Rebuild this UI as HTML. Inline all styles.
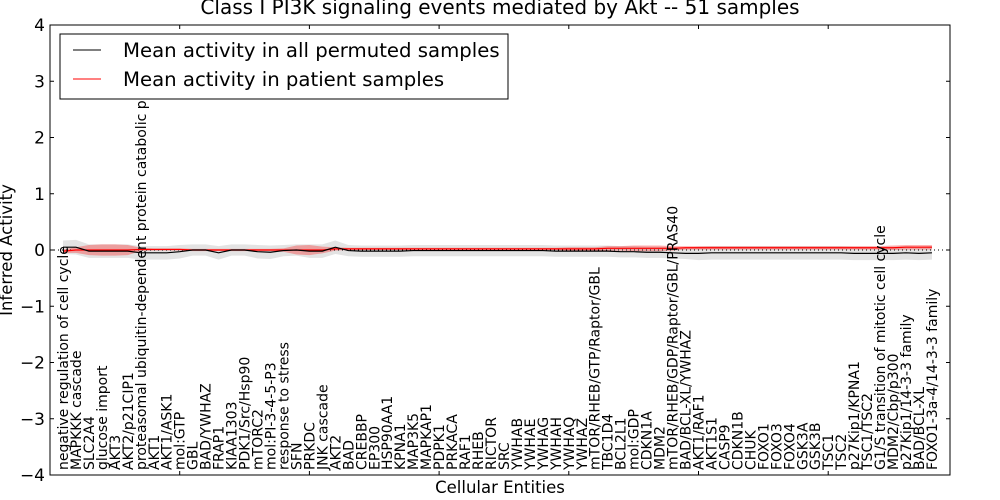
<!DOCTYPE html>
<html><head><meta charset="utf-8"><style>
body{margin:0;background:#fff;}
svg{display:block;font-family:"DejaVu Sans","Liberation Sans",sans-serif;}
</style></head><body>
<svg id="chart" width="1000" height="500" viewBox="0 0 1000 500" xmlns="http://www.w3.org/2000/svg">
<text x="500" y="14" text-anchor="middle" font-size="20">Class I PI3K signaling events mediated by Akt -- 51 samples</text>
<g id="plot"></g>
<g id="xlabels"></g>
<rect x="50" y="25" width="900" height="450" fill="none" stroke="#000" stroke-width="1"/>
<g id="ticks"></g>
<text transform="translate(12,250) rotate(-90)" text-anchor="middle" font-size="16.5">Inferred Activity</text>
<text x="500" y="493" text-anchor="middle" font-size="16.5">Cellular Entities</text>
<g>
<rect x="60" y="34" width="448" height="65" fill="#fff" stroke="#000" stroke-width="1"/>
<line x1="73" y1="50" x2="101" y2="50" stroke="#000" stroke-width="1"/>
<text x="123" y="57" font-size="19.7">Mean activity in all permuted samples</text>
<line x1="73" y1="79" x2="101" y2="79" stroke="#f00" stroke-width="1"/>
<text x="123" y="86" font-size="19.7">Mean activity in patient samples</text>
</g>
</svg>
<script>
const categories=["negative regulation of cell cycle","MAPKKK cascade","SLC2A4","glucose import","AKT3","AKT2/p21CIP1","proteasomal ubiquitin-dependent protein catabolic process","AKT1","AKT1/ASK1","mol:GTP","GBL","BAD/YWHAZ","FRAP1","KIAA1303","PDK1/Src/Hsp90","mTORC2","mol:PI-3-4-5-P3","response to stress","SFN","PRKDC","JNK cascade","AKT2","BAD","CREBBP","EP300","HSP90AA1","KPNA1","MAP3K5","MAPKAP1","PDPK1","PRKACA","RAF1","RHEB","RICTOR","SRC","YWHAB","YWHAE","YWHAG","YWHAH","YWHAQ","YWHAZ","mTOR/RHEB/GTP/Raptor/GBL","TBC1D4","BCL2L1","mol:GDP","CDKN1A","MDM2","mTOR/RHEB/GDP/Raptor/GBL/PRAS40","BAD/BCL-XL/YWHAZ","AKT1/RAF1","AKT1S1","CASP9","CDKN1B","CHUK","FOXO1","FOXO3","FOXO4","GSK3A","GSK3B","TSC1","TSC2","p27Kip1/KPNA1","TSC1/TSC2","G1/S transition of mitotic cell cycle","MDM2/Cbp/p300","p27Kip1/14-3-3 family","BAD/BCL-XL","FOXO1-3a-4/14-3-3 family"];
const permMean=[0.05,0.05,-0.02,-0.02,-0.02,-0.02,-0.05,-0.05,-0.05,-0.03,0,0,-0.05,0,0,-0.03,-0.04,-0.01,0,-0.02,-0.02,0.05,-0.01,-0.02,-0.02,-0.02,-0.02,-0.01,-0.01,-0.01,-0.01,-0.01,-0.01,-0.01,-0.01,-0.01,-0.01,-0.01,-0.02,-0.02,-0.02,-0.02,-0.02,-0.03,-0.03,-0.04,-0.04,-0.05,-0.06,-0.06,-0.05,-0.05,-0.05,-0.05,-0.05,-0.05,-0.05,-0.05,-0.05,-0.05,-0.05,-0.06,-0.06,-0.06,-0.06,-0.05,-0.06,-0.05];
const permSpread=[0.12,0.13,0.12,0.12,0.12,0.12,0.12,0.12,0.12,0.12,0.1,0.1,0.12,0.1,0.1,0.12,0.12,0.1,0.1,0.12,0.12,0.12,0.1,0.1,0.1,0.1,0.1,0.1,0.1,0.1,0.1,0.1,0.1,0.1,0.1,0.1,0.1,0.1,0.1,0.1,0.1,0.1,0.1,0.1,0.1,0.1,0.1,0.1,0.1,0.12,0.12,0.12,0.12,0.12,0.12,0.12,0.12,0.12,0.12,0.12,0.12,0.12,0.12,0.12,0.12,0.12,0.12,0.12];
const patientMean=[-0.02,0,0,0,0,0,0.01,0.01,0.01,0.01,0,0,0,0,0,0,0,0,0,0,0,0.02,0.02,0.02,0.02,0.02,0.02,0.02,0.02,0.02,0.02,0.02,0.02,0.02,0.02,0.02,0.02,0.02,0.02,0.02,0.02,0.02,0.03,0.03,0.03,0.03,0.03,0.03,0.04,0.04,0.04,0.04,0.04,0.04,0.04,0.04,0.04,0.04,0.04,0.04,0.04,0.04,0.04,0.04,0.04,0.05,0.05,0.05];
const patientSpread=[0.03,0.05,0.09,0.1,0.1,0.09,0.03,0.02,0.02,0.02,0.02,0.02,0.02,0.02,0.02,0.02,0.02,0.03,0.08,0.09,0.06,0.03,0.02,0.02,0.02,0.02,0.02,0.02,0.02,0.02,0.02,0.02,0.02,0.02,0.02,0.02,0.02,0.02,0.02,0.03,0.03,0.03,0.04,0.04,0.05,0.05,0.05,0.04,0.03,0.03,0.03,0.03,0.03,0.03,0.03,0.03,0.03,0.03,0.03,0.03,0.03,0.03,0.03,0.03,0.04,0.04,0.04,0.04];
const yTicks=[4,3,2,1,0,-1,-2,-3,-4];
const xTicks=[10,20,30,40,50,60];

const NS="http://www.w3.org/2000/svg";
const X0=50,XU=12.97,Y0=250,YU=56.25;
const xs=i=>X0+(i+1)*XU;
const xv=v=>X0+v*XU;
const ys=v=>Y0-v*YU;
function mk(tag,attrs,parent){const e=document.createElementNS(NS,tag);for(const k in attrs)e.setAttribute(k,attrs[k]);parent.appendChild(e);return e;}
const plot=document.getElementById('plot');
function band(m,s,fill,op,name){
  let up=m.map((v,i)=>xs(i)+','+ys(v+s[i]));
  let dn=m.map((v,i)=>xs(i)+','+ys(v-s[i])).reverse();
  const p=mk('polygon',{points:up.concat(dn).join(' '),fill:fill,'fill-opacity':op,stroke:'none'},plot);
  
  
}
band(permMean,permSpread,'#b0b0b0',0.35,'permuted-band');
band(patientMean,patientSpread,'#f00',0.3,'patient-band');
const zl=mk('line',{x1:50,x2:950,y1:ys(0),y2:ys(0),stroke:'#000','stroke-dasharray':'1,3','stroke-width':1},plot);


function line(m,col,name){
  const p=mk('polyline',{points:m.map((v,i)=>xs(i)+','+ys(v)).join(' '),fill:'none',stroke:col,'stroke-width':1.2},plot);
  
  
}
line(patientMean,'#f00','patient-mean-line');
line(permMean,'#000','permuted-mean-line');
const tg=document.getElementById('ticks');
yTicks.forEach(v=>{
  const y=ys(v);
  mk('line',{x1:50,x2:54,y1:y,y2:y,stroke:'#000'},tg);
  mk('line',{x1:946,x2:950,y1:y,y2:y,stroke:'#000'},tg);
  const t=mk('text',{x:45,y:y+6,'text-anchor':'end','font-size':17},tg);
  t.textContent=(v<0?'\u2212'+(-v):String(v));
  
  
});
xTicks.forEach(v=>{
  const x=xv(v);
  mk('line',{x1:x,x2:x,y1:25,y2:29,stroke:'#000'},tg);
  mk('line',{x1:x,x2:x,y1:471,y2:475,stroke:'#000'},tg);
});
const xl=document.getElementById('xlabels');
categories.forEach((c,i)=>{
  const x=xs(i)+5;
  const t=mk('text',{transform:`translate(${x},470) rotate(-90)`,'font-size':14},xl);
  t.textContent=c;
  
  
});
</script>
</body></html>
